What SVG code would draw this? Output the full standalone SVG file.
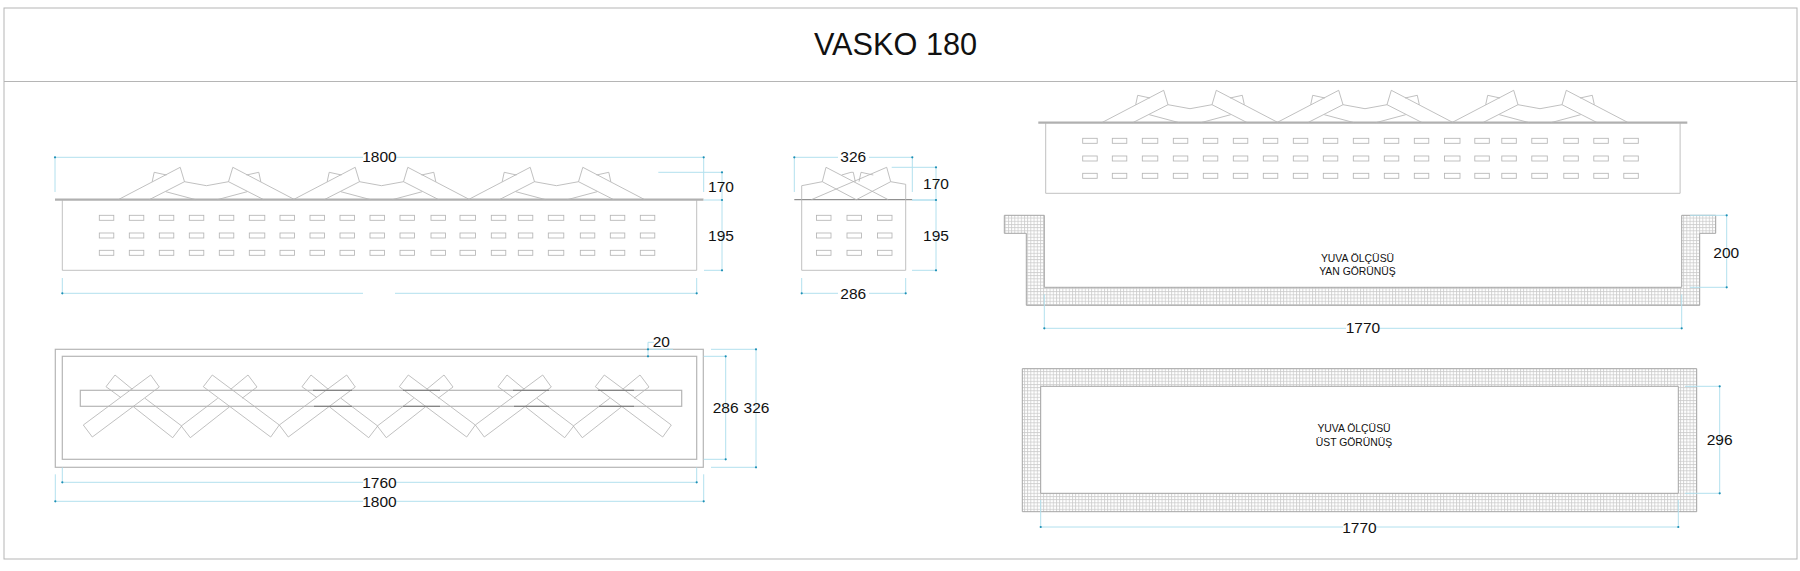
<svg xmlns="http://www.w3.org/2000/svg" xmlns:xlink="http://www.w3.org/1999/xlink" width="1800" height="571" viewBox="0 0 1800 571">
<style>
text{font-family:"Liberation Sans",Arial,sans-serif;fill:#111;text-anchor:middle}
.t{font-size:15.5px}
.s{font-size:10.4px}
.l{fill:none;stroke:#b5b5b5;stroke-width:.85}
.b{fill:none;stroke:#b5b5b5;stroke-width:1.2}
.base{fill:none;stroke:#b0b0b0;stroke-width:2.2}
.dk{fill:none;stroke:#777;stroke-width:1}
.d{fill:none;stroke:#b2e0ee;stroke-width:1}
.p{fill:#1b8fb5}
.h{stroke:#a4a4a4;stroke-width:1}
</style>
<defs>
<pattern id="grid" width="3.2" height="3.2" patternUnits="userSpaceOnUse">
<path d="M0 .5H3.2M.5 0V3.2" fill="none" stroke="#cbcbcb" stroke-width=".8"/>
</pattern>
<circle id="dot" r="1.1" class="p"/>
<g id="col"><rect x="0" y="215.3" width="14.5" height="5" class="l"/><rect x="0" y="233" width="14.5" height="5" class="l"/><rect x="0" y="250.3" width="14.5" height="5" class="l"/></g>
<g id="colw"><rect x="0" y="215.3" width="15.5" height="5" class="l"/><rect x="0" y="233" width="15.5" height="5" class="l"/><rect x="0" y="250.3" width="15.5" height="5" class="l"/></g>
<path id="orn" class="l" d="M-88.3 199.7L-26.3 167.3L-22 181.7L-57.3 199.7M-54.3 181.7L-52.3 172.3L-40 175M-22 181.7L0 185.7L22 181.7M-40.7 191.7L-10.7 199.7M88.3 199.7L26.3 167.3L22 181.7L57.3 199.7M54.3 181.7L52.3 172.3L40 175M40.7 191.7L10.7 199.7"/>
<path id="xa" class="l" d="M150.7 375L159.3 387L92.3 437L83.3 425ZM132.3 389.3L115 375L106 386.7L121 397.7M145 398.3L181.7 426L172.7 437.7L133.3 406.7"/>
<path id="xb" class="l" d="M212.3 375L203.3 386.7L270.7 437L279.3 425ZM230.7 389.3L248 375L257 387L242 398.3M217.7 398.3L181.3 426L190.3 437.7L229.7 406.7"/>
</defs>

<g id="frame">
<rect x="4" y="8" width="1793" height="551" fill="none" stroke="#b5b5b5" stroke-width="1"/>
<path d="M4 81.5H1797" fill="none" stroke="#b5b5b5" stroke-width="1"/>
<text x="895.5" y="54.5" font-size="30.7">VASKO 180</text>
</g>

<g id="front-view">
<path class="base" d="M55 199.7H703.5"/>
<path class="l" d="M62.3 199.7V270.3H696.7V199.7"/>
<use href="#orn" x="206.5"/><use href="#orn" x="381.5"/><use href="#orn" x="556.5"/>
<g id="front-holes">
<use href="#col" x="99.3"/><use href="#col" x="129.3"/><use href="#col" x="159.3"/><use href="#col" x="189.3"/><use href="#col" x="219.3"/><use href="#colw" x="249.3"/><use href="#col" x="280"/><use href="#col" x="310"/><use href="#col" x="340"/><use href="#col" x="370"/><use href="#col" x="400"/><use href="#col" x="431"/><use href="#colw" x="460"/><use href="#col" x="491.3"/><use href="#col" x="518.3"/><use href="#colw" x="548.3"/><use href="#col" x="580.3"/><use href="#col" x="610.3"/><use href="#col" x="640.3"/>
</g>
</g>

<g id="side-view">
<path class="dk" d="M794.3 199.7H912.3"/>
<path class="l" d="M801.7 185.7V270.3H905.7V184.3"/>
<path class="l" d="M801.7 185.7L822.3 181.7L826 167.3L888.3 199.7M822.3 181.7L856.3 199.7L890.7 181.7L886.7 167.3L811.3 199.7M890.7 181.7L905.7 184.3M841.7 175L851 172.3L853.3 172.3L855.3 181.7M859 181.7L861 172.3L873.3 175"/>
<use href="#col" x="816.5"/><use href="#col" x="847"/><use href="#col" x="877.5"/>
</g>

<g id="top-view">
<rect class="b" x="55.3" y="349.3" width="648" height="118"/>
<rect class="b" x="62.3" y="356.3" width="634.4" height="103"/>
<rect class="b" x="80.3" y="390.3" width="601.4" height="16"/>
<use href="#xa"/><use href="#xb"/><use href="#xa" x="196"/><use href="#xb" x="196"/><use href="#xa" x="392"/><use href="#xb" x="392"/>
<path class="dk" d="M313 390.3H352M314 406.3H352M403 390.3H440M403 406.3H440M513 390.3H549M514 406.3H549M598 390.3H634M599 406.3H634"/>
</g>

<g id="upper-right-view">
<path class="base" d="M1038.3 122.7H1687.3"/>
<path class="l" d="M1045.7 122.7V193.3H1680.1V122.7"/>
<g transform="translate(983.5 -77)"><use href="#orn" x="206.5"/><use href="#orn" x="381.5"/><use href="#orn" x="556.5"/></g>
<g transform="translate(0 -77)">
<use href="#col" x="1082.7"/><use href="#col" x="1112.3"/><use href="#colw" x="1142.3"/><use href="#col" x="1173.3"/><use href="#col" x="1203.3"/><use href="#col" x="1233.3"/><use href="#col" x="1263.3"/><use href="#col" x="1293.3"/><use href="#col" x="1323.3"/><use href="#colw" x="1353.3"/><use href="#col" x="1384.3"/><use href="#col" x="1414.3"/><use href="#colw" x="1444.5"/><use href="#col" x="1474.8"/><use href="#col" x="1501.8"/><use href="#colw" x="1531.8"/><use href="#col" x="1563.8"/><use href="#col" x="1593.8"/><use href="#col" x="1623.8"/>
</g>
</g>

<g id="niche-side">
<path d="M1004.3 215.3H1044.3V287.3H1681.7V215.3H1715.7V233.3H1699.7V305.3H1026.3V233.3H1004.3Z" fill="url(#grid)" class="h"/>
<text class="s" x="1357.5" y="261.5">YUVA ÖLÇÜSÜ</text>
<text class="s" x="1357.5" y="274.5">YAN GÖRÜNÜŞ</text>
</g>

<g id="niche-top">
<path d="M1022.3 368.7H1696.7V511.7H1022.3ZM1040.7 386.3V493.3H1678.3V386.3Z" fill="url(#grid)" fill-rule="evenodd" class="h"/>
<text class="s" x="1354" y="431.5">YUVA ÖLÇÜSÜ</text>
<text class="s" x="1354" y="445.5">ÜST GÖRÜNÜŞ</text>
</g>

<g id="connectors">
<path class="d" d="M55 192V157.3H363M395 157.3H703.7V192"/>
<path class="d" d="M62.3 278V293.3H363M395 293.3H696.7V278"/>
<path class="d" d="M658.3 172.3H722V270.3H704M703.7 200H722"/>
<path class="d" d="M794.3 192V157.3H838M869 157.3H912.3V192"/>
<path class="d" d="M891.7 167.3H936V270.3H912M912 200H936"/>
<path class="d" d="M912 200H936" stroke-width="2"/>
<path class="d" d="M801.7 278V293.3H838M869 293.3H905.7V278"/>
<path class="d" d="M62.3 467.5V482.3H363M395 482.3H696.7V467.5"/>
<path class="d" d="M55.3 474.3V501.3H363M395 501.3H703.7V474.3"/>
<path class="d" d="M654 342.3H648V356.3M648 349.3H673"/>
<path class="d" d="M703.7 356.3H725.7V459.3H703.7"/>
<path class="d" d="M711 349.3H756V467.3H711"/>
<path class="d" d="M1690 215.3H1726.7V287.3H1690"/>
<path class="d" d="M1044.3 294.3V328.3H1346M1379 328.3H1681.7V294.3"/>
<path class="d" d="M1685 386.3H1719.7V493.3H1685"/>
<path class="d" d="M1040.7 500V527H1343M1376 527H1678.3V500"/>
<g id="dim-dots">
<use href="#dot" x="55" y="157.3"/><use href="#dot" x="703.7" y="157.3"/><use href="#dot" x="62.3" y="293.3"/><use href="#dot" x="696.7" y="293.3"/><use href="#dot" x="722" y="172.3"/><use href="#dot" x="722" y="200"/><use href="#dot" x="722" y="270.3"/>
<use href="#dot" x="794.3" y="157.3"/><use href="#dot" x="912.3" y="157.3"/><use href="#dot" x="936" y="167.3"/><use href="#dot" x="936" y="200"/><use href="#dot" x="936" y="270.3"/><use href="#dot" x="801.7" y="293.3"/><use href="#dot" x="905.7" y="293.3"/>
<use href="#dot" x="62.3" y="482.3"/><use href="#dot" x="696.7" y="482.3"/><use href="#dot" x="55.3" y="501.3"/><use href="#dot" x="703.7" y="501.3"/><use href="#dot" x="648" y="349.3"/><use href="#dot" x="648" y="356.3"/><use href="#dot" x="725.7" y="356.3"/><use href="#dot" x="725.7" y="459.3"/><use href="#dot" x="756" y="349.3"/><use href="#dot" x="756" y="467.3"/>
<use href="#dot" x="1726.7" y="215.3"/><use href="#dot" x="1726.7" y="287.3"/><use href="#dot" x="1044.3" y="328.3"/><use href="#dot" x="1681.7" y="328.3"/><use href="#dot" x="1719.7" y="386.3"/><use href="#dot" x="1719.7" y="493.3"/><use href="#dot" x="1040.7" y="527"/><use href="#dot" x="1678.3" y="527"/>
</g>
</g>

<g id="dimension-labels">
<text class="t" x="379.5" y="162">1800</text>
<text class="t" x="721" y="192">170</text>
<text class="t" x="721" y="241">195</text>
<text class="t" x="853.3" y="162">326</text>
<text class="t" x="936" y="189">170</text>
<text class="t" x="936" y="241">195</text>
<text class="t" x="853.3" y="299">286</text>
<text class="t" x="661.3" y="347">20</text>
<text class="t" x="725.7" y="413">286</text>
<text class="t" x="756.5" y="413">326</text>
<text class="t" x="379.5" y="487.5">1760</text>
<text class="t" x="379.5" y="506.5">1800</text>
<text class="t" x="1363" y="333">1770</text>
<text class="t" x="1726.3" y="257.5">200</text>
<text class="t" x="1719.7" y="445">296</text>
<text class="t" x="1359.5" y="532.5">1770</text>
</g>
</svg>
